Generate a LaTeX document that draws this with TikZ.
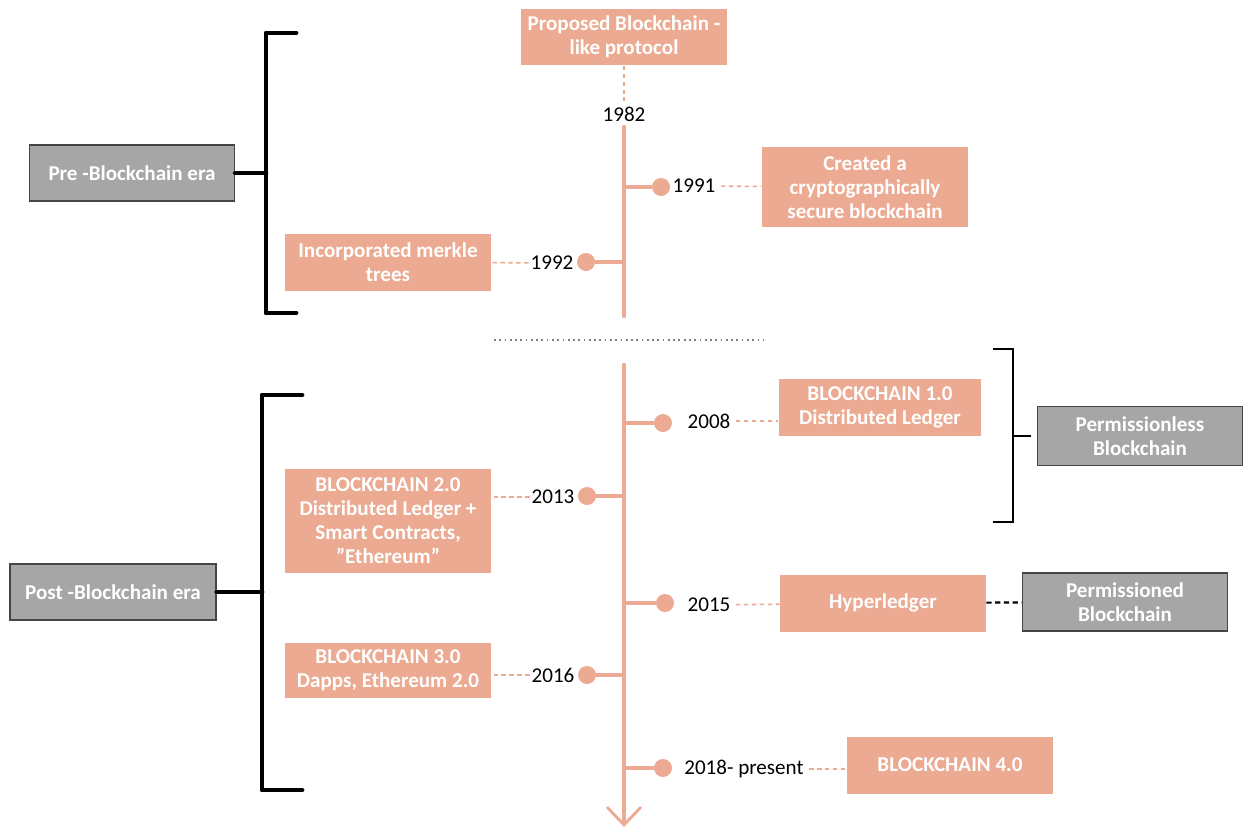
\documentclass[tikz,border=0pt]{standalone}
\usepackage{fontspec}
\setmainfont{Carlito}
\usetikzlibrary{arrows.meta}
\definecolor{salmon}{HTML}{EBAA91}
\definecolor{eragray}{HTML}{A6A6A6}
\definecolor{eraedge}{HTML}{454545}
\tikzset{
  evbox/.style={fill=salmon, text=white, font=\bfseries\fontsize{12}{13.7}\selectfont,
    align=center, minimum width=4.12cm, minimum height=1.14cm, inner sep=2pt},
  erabox/.style={fill=eragray, draw=eraedge, line width=0.9pt, text=white,
    font=\bfseries\fontsize{12}{13.7}\selectfont, align=center,
    minimum width=4.1cm, minimum height=1.12cm, inner sep=2pt},
  yearlabel/.style={font=\fontsize{12}{13}\selectfont, inner sep=3pt},
  yeardot/.style={circle, fill=salmon, minimum size=0.36cm, inner sep=0pt},
  spine/.style={draw=salmon, line width=2.4pt},
  dashlink/.style={draw=salmon, line width=0.9pt, dash pattern=on 2.5pt off 2pt},
  erabrace/.style={line width=2.8pt, line cap=round, line join=round}
}

\begin{document}
\begin{tikzpicture}[x=0.02cm, y=-0.02cm]
\useasboundingbox (0,0) rectangle (1243,829);

% the time line
\coordinate (s1) at (624,127);
\coordinate (s2) at (624,316);
\coordinate (s3) at (624,365);
\coordinate (s4) at (624,827);
\draw[spine, line cap=round] (s1) -- (s2);
\draw[spine, line cap=round, -{Straight Barb[length=0.36cm, width=0.68cm, line width=1.6pt]}] (s3) -- (s4);
\draw[gray, dotted, line width=1pt] (494,340) -- (763,340);

% 1982
\node[evbox] (proto) at (624,37) {Proposed Blockchain -\\like protocol};
\node[yearlabel] (y1982) at (624,114) {1982};
\draw[dashlink] (proto) -- (y1982);

% 1991
\node[yeardot] (d1991) at (661,187) {};
\node[yearlabel] (y1991) at (694,186) {1991};
\node[evbox, minimum height=1.6cm] (e1991) at (865,187) {Created a\\cryptographically\\secure blockchain};
\draw[spine] (d1991 -| s1) -- (d1991);
\draw[dashlink] (y1991) -- (e1991);

% 1992
\node[yeardot] (d1992) at (586,262) {};
\node[yearlabel, inner sep=1pt] (y1992) at (552,263) {1992};
\node[evbox] (e1992) at (388,262) {Incorporated merkle\\trees};
\draw[spine] (d1992 -| s1) -- (d1992);
\draw[dashlink] (y1992) -- (e1992);

% 2008
\node[yeardot] (d2008) at (663,423) {};
\node[yearlabel] (y2008) at (709,421) {2008};
\node[evbox, minimum width=4.06cm] (e2008) at (880,407) {BLOCKCHAIN 1.0\\Distributed Ledger};
\draw[spine] (d2008 -| s3) -- (d2008);
\draw[dashlink] (y2008) -- (y2008 -| e2008.west);

% 2013
\node[yeardot] (d2013) at (587,496) {};
\node[yearlabel, inner sep=1pt] (y2013) at (553,497) {2013};
\node[evbox, minimum height=2.08cm] (e2013) at (388,521) {BLOCKCHAIN 2.0\\Distributed Ledger +\\Smart Contracts,\\\symbol{34}Ethereum\symbol{34}};
\draw[spine] (d2013 -| s3) -- (d2013);
\draw[dashlink] (y2013) -- (y2013 -| e2013.east);

% 2015
\node[yeardot] (d2015) at (665,603) {};
\node[yearlabel] (y2015) at (709,605) {2015};
\node[evbox] (e2015) at (883,603) {Hyperledger};
\draw[spine] (d2015 -| s3) -- (d2015);
\draw[dashlink] (y2015) -- (e2015);

% 2016
\node[yeardot] (d2016) at (587,675) {};
\node[yearlabel, inner sep=1pt] (y2016) at (553,675) {2016};
\node[evbox, minimum height=1.1cm] (e2016) at (388,670) {BLOCKCHAIN 3.0\\Dapps, Ethereum 2.0};
\draw[spine] (d2016 -| s3) -- (d2016);
\draw[dashlink] (y2016) -- (y2016 -| e2016.east);

% 2018
\node[yeardot] (d2018) at (663,768) {};
\node[yearlabel] (y2018) at (744,769) {2018- present};
\node[evbox] (e2018) at (950,765) {BLOCKCHAIN 4.0};
\draw[spine] (d2018 -| s3) -- (d2018);
\draw[dashlink] (y2018) -- (y2018 -| e2018.west);

% eras
\node[erabox] (pre) at (132,173) {Pre -Blockchain era};
\node[erabox, minimum width=4.12cm] (post) at (113,592) {Post -Blockchain era};
\node[erabox, minimum height=1.18cm] (perless) at (1140,436) {Permissionless\\Blockchain};
\node[erabox, minimum height=1.16cm] (permd) at (1125,602) {Permissioned\\Blockchain};

\coordinate (b1) at (266,174);
\coordinate (b2) at (262,592);
\coordinate (b3) at (1013,436);
\draw[erabrace] (296,33) -- (266,33) -- (266,313) -- (296,313);
\draw[erabrace] (pre.east) -- (pre.east -| b1);
\draw[erabrace] (302,395) -- (262,395) -- (262,790) -- (302,790);
\draw[erabrace] (post.east) -- (post.east -| b2);
\draw[line width=1.5pt] (993,349) -- (1013,349) -- (1013,522) -- (993,522);
\draw[line width=1.5pt] (b3) -- ([xshift=-0.12cm]perless.west);
\draw[line width=1.2pt, dash pattern=on 3pt off 2pt] (e2015) -- (permd);
\end{tikzpicture}
\end{document}
